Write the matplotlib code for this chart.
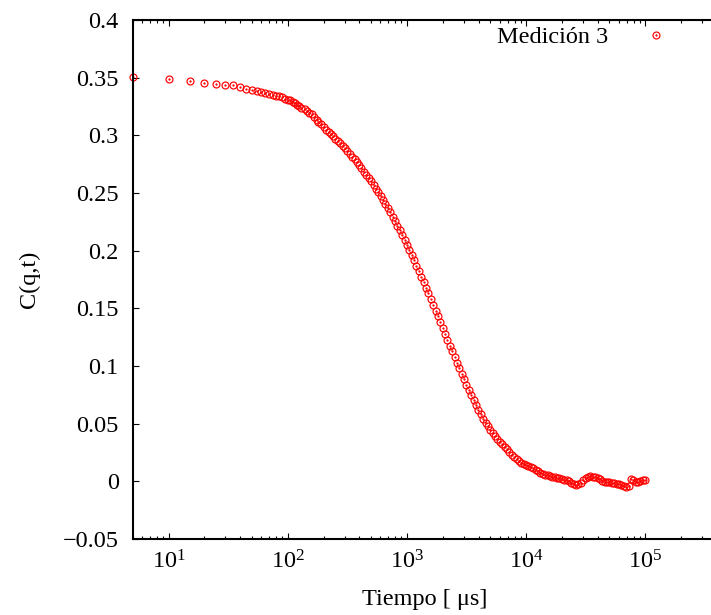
import matplotlib
matplotlib.use('Agg')
import matplotlib.pyplot as plt
from matplotlib.ticker import LogLocator, FixedLocator, FixedFormatter, NullFormatter

plt.rcParams['font.family'] = ['Liberation Serif', 'DejaVu Serif']
plt.rcParams['mathtext.fontset'] = 'custom'
plt.rcParams['mathtext.rm'] = 'Liberation Serif'
plt.rcParams['mathtext.it'] = 'Liberation Serif:italic'

# tiempo de retardo [us] y correlacion C(q,t)
tiempo = [
    5, 10, 15, 20, 25, 30, 35, 40, 45, 50, 55, 60, 65, 70, 75, 80, 85, 90, 95, 100,
    105, 110, 115, 120, 125, 130, 140, 145, 150, 160, 165, 175, 180, 190, 200, 210,
    220, 230, 240, 250, 265, 275, 290, 300, 315, 330, 345, 365, 380, 400, 415, 435,
    455, 480, 500, 525, 550, 575, 605, 630, 660, 690, 725, 760, 795, 830, 870, 910,
    955, 1000, 1045, 1095, 1150, 1200, 1260, 1320, 1380, 1445, 1515, 1585, 1660,
    1740, 1820, 1905, 1995, 2090, 2190, 2290, 2400, 2510, 2630, 2755, 2885, 3020,
    3160, 3310, 3465, 3630, 3800, 3980, 4170, 4365, 4570, 4785, 5010, 5250, 5495,
    5755, 6025, 6310, 6605, 6920, 7245, 7585, 7945, 8320, 8710, 9120, 9550,
    10000, 10470, 10965, 11480, 12025, 12590, 13185, 13805, 14455, 15135, 15850,
    16595, 17380, 18195, 19055, 19955, 20895, 21880, 22910, 23990, 25120, 26305,
    27540, 28840, 30200, 31625, 33115, 34675, 36310, 38020, 39810, 41685, 43650,
    45710, 47865, 50120, 52480, 54955, 57545, 60255, 63095, 66070, 69185, 72445,
    75860, 79435, 83175, 87095, 91200, 95500, 100000,
]
correlacion = [
    0.3505, 0.3485, 0.3470, 0.3455, 0.3445, 0.3440, 0.3432, 0.3418, 0.3405, 0.3396,
    0.3385, 0.3372, 0.3365, 0.3357, 0.3350, 0.3342, 0.3337, 0.3328, 0.3318, 0.3310,
    0.3302, 0.3293, 0.3280, 0.3262, 0.3252, 0.3240, 0.3226, 0.3212, 0.3196, 0.3182,
    0.3160, 0.3137, 0.3115, 0.3094, 0.3072, 0.3050, 0.3030, 0.3009, 0.2990, 0.2972,
    0.2952, 0.2932, 0.2911, 0.2890, 0.2865, 0.2840, 0.2816, 0.2791, 0.2766, 0.2740,
    0.2713, 0.2686, 0.2658, 0.2629, 0.2600, 0.2570, 0.2538, 0.2506, 0.2472, 0.2439,
    0.2404, 0.2368, 0.2331, 0.2293, 0.2255, 0.2216, 0.2175, 0.2134, 0.2092,
    0.2049, 0.2005, 0.1960, 0.1915, 0.1869, 0.1822, 0.1775, 0.1727, 0.1679, 0.1630,
    0.1581, 0.1531, 0.1481, 0.1430, 0.1379, 0.1328, 0.1278, 0.1227, 0.1177, 0.1127,
    0.1078, 0.1029, 0.0980, 0.0932, 0.0885, 0.0839, 0.0794, 0.0750, 0.0706, 0.0662,
    0.0620, 0.0580, 0.0543, 0.0508, 0.0476, 0.0446, 0.0418, 0.0391, 0.0366, 0.0342,
    0.0320, 0.0298, 0.0276, 0.0252, 0.0230, 0.0208, 0.0190, 0.0175, 0.0162, 0.0150,
    0.0140, 0.0131, 0.0122, 0.0112, 0.0100, 0.0088, 0.0076, 0.0066, 0.0058, 0.0052,
    0.0046, 0.0040, 0.0034, 0.0030, 0.0028, 0.0022, 0.0015, 0.0008, 0.0002, -0.0012,
    -0.0025, -0.0030, -0.0026, -0.0012, 0.0008, 0.0028, 0.0040, 0.0043, 0.0040,
    0.0035, 0.0030, 0.0018, 0.0004, -0.0006, -0.0010, -0.0008, -0.0012, -0.0018,
    -0.0022, -0.0024, -0.0032, -0.0042, -0.0048, -0.0040, 0.0018, 0.0010, -0.0008,
    -0.0010, 0.0000, 0.0012, 0.0014,
]

y_ticks = [-0.05, 0, 0.05, 0.1, 0.15, 0.2, 0.25, 0.3, 0.35, 0.4]
y_labels = ['\u22120.05', '0', '0.05', '0.1', '0.15', '0.2', '0.25', '0.3', '0.35', '0.4']

fig = plt.figure(figsize=(7.11, 6.15), dpi=100)
ax = fig.add_axes([0.1866, 0.1236, 0.8218, 0.8439])

rojo = '#ff0000'
aro, = ax.plot(tiempo, correlacion, 'o', ms=5.0, mfc='none', mec=rojo, mew=0.85, clip_on=False)
punto, = ax.plot(tiempo, correlacion, '.', ms=1.3, color=rojo, clip_on=False)

ax.set_xscale('log')
ax.set_xlim(5, 4e5)
ax.set_ylim(-0.05, 0.4)
ax.xaxis.set_major_locator(LogLocator(base=10, numticks=20))
ax.xaxis.set_minor_locator(LogLocator(base=10, subs=range(2, 10), numticks=50))
ax.xaxis.set_minor_formatter(NullFormatter())
ax.yaxis.set_major_locator(FixedLocator(y_ticks))
ax.yaxis.set_major_formatter(FixedFormatter(y_labels))

for s in ax.spines.values():
    s.set_linewidth(1.5)
ax.tick_params(which='both', direction='in', top=True, right=True, labelsize=17.5, width=0.8)
ax.tick_params(which='major', length=4.2)
ax.tick_params(which='minor', length=2.2)
ax.tick_params(axis='x', pad=8)
ax.tick_params(axis='y', pad=10)

ax.set_xlabel('Tiempo [ \u03bcs]', fontsize=17.5)
ax.xaxis.label.set_va('center')
ax.xaxis.set_label_coords(0.5, -0.1175)
ax.set_ylabel('C(q,t)', fontsize=17.5)
ax.yaxis.label.set_va('center')
ax.yaxis.set_label_coords(-0.176, 0.5)

ax.legend([(aro, punto)], ['Medición 3'], loc='upper right', markerfirst=False,
          frameon=False, fontsize=17.5, handlelength=2.4, handletextpad=0.8,
          borderpad=0, borderaxespad=0, bbox_to_anchor=(0.9462, 0.9884))

fig.savefig('out.png', dpi=100)
